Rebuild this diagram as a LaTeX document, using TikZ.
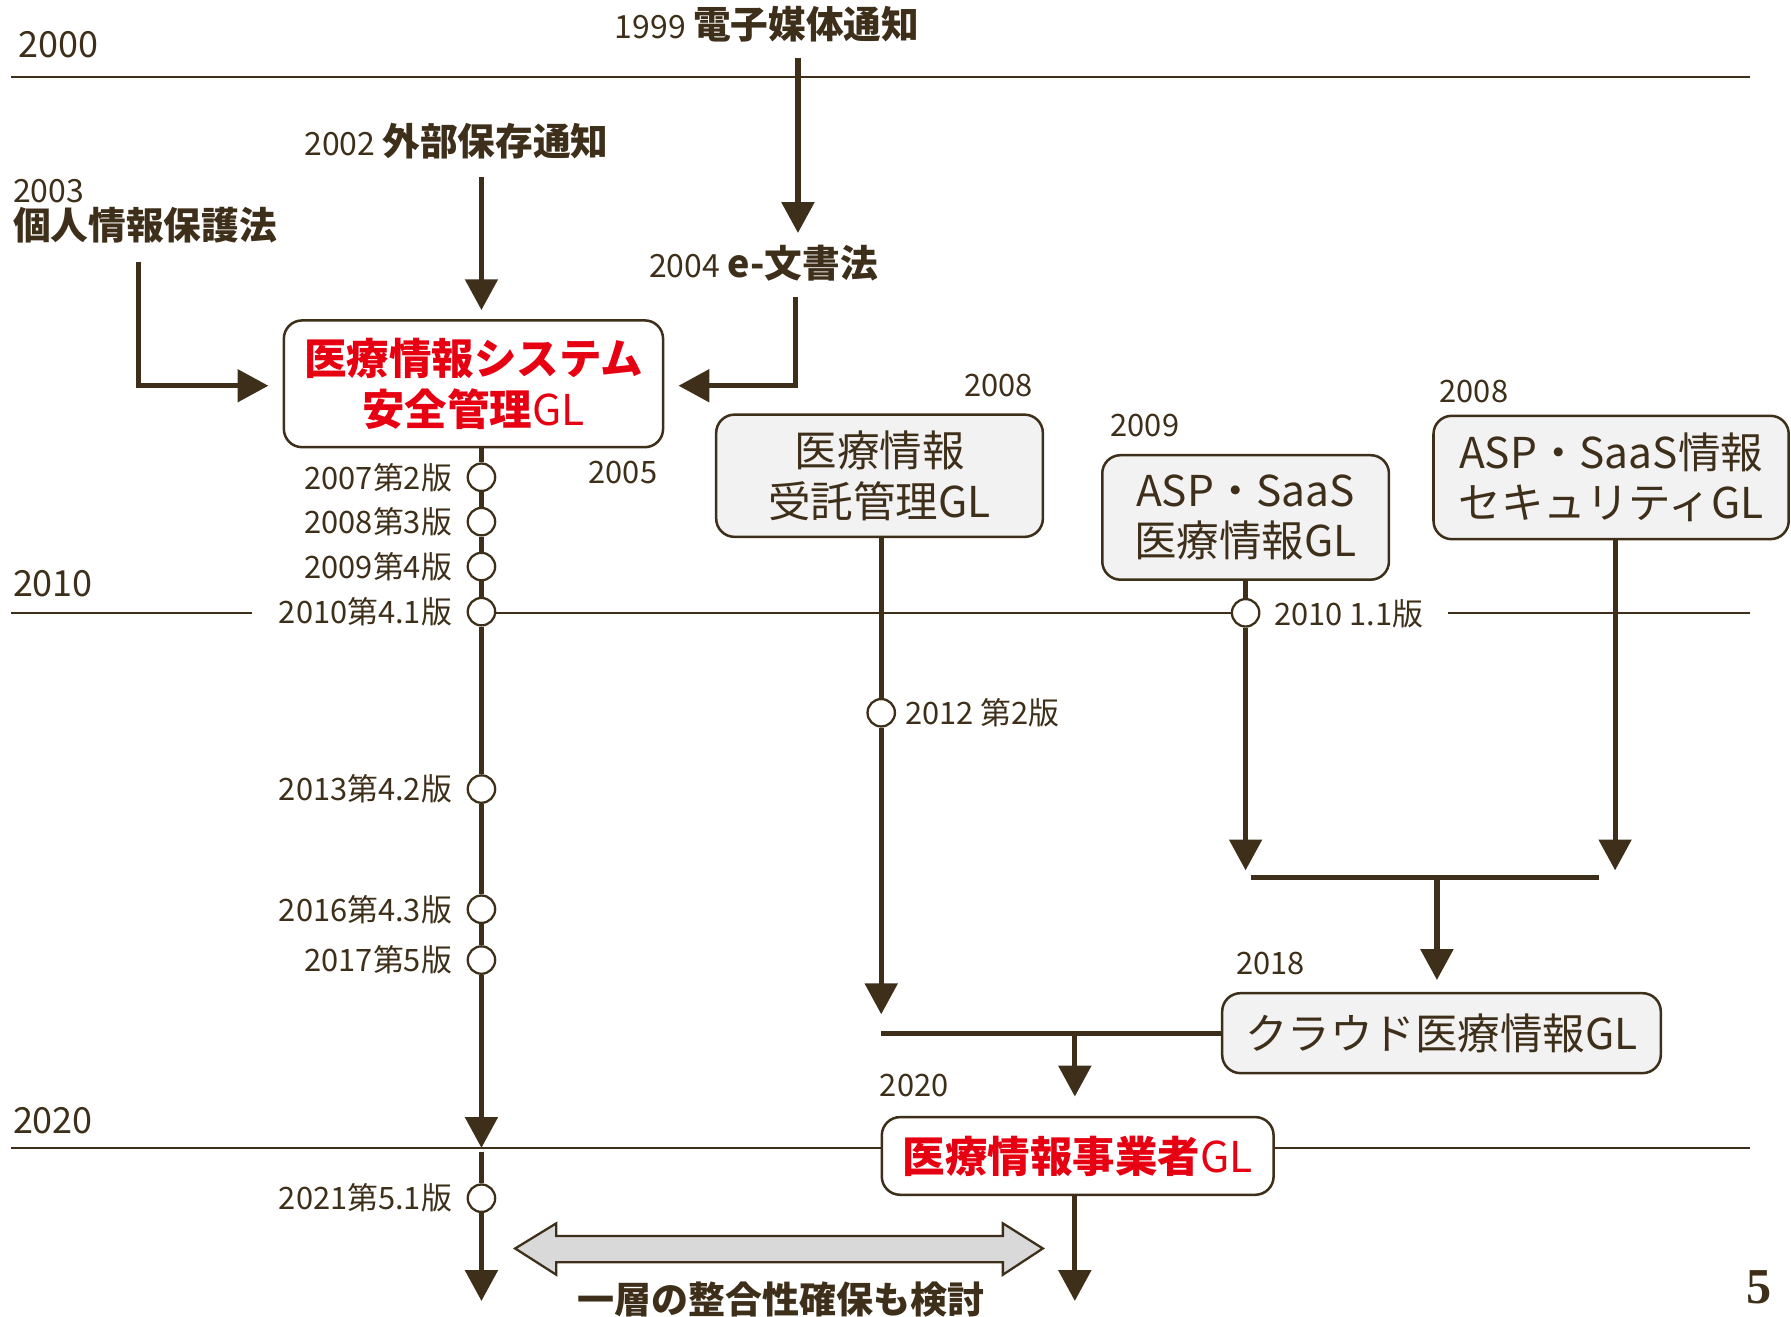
\documentclass[tikz,border=0pt]{standalone}
\usepackage{fontspec}
\setmainfont{Noto Sans CJK JP}
\newfontfamily\serifbold{Liberation Serif}[UprightFont={* Bold}]
\usetikzlibrary{arrows.meta}
\definecolor{ink}{RGB}{62,47,26}
\definecolor{jred}{RGB}{230,0,18}
\definecolor{boxgray}{RGB}{242,242,242}
\definecolor{arrgray}{RGB}{217,217,217}
\newcommand{\fsz}[1]{\fontsize{#1}{#1}\selectfont}
\tikzset{
  conn/.style={draw=ink, line width=2.25pt},
  arr/.style={conn, -{Triangle[length=13.5pt,width=14pt]}},
  yearline/.style={draw=ink, line width=0.9pt},
  gbox/.style={draw=ink, line width=1.1pt, rounded corners=8pt, fill=boxgray, align=center,
    font=\fontsize{18.6}{22}\selectfont, text=ink, inner sep=0pt},
  wbox/.style={gbox, fill=white, text=jred},
  ver/.style={circle, draw=ink, fill=white, line width=1pt, minimum size=12pt, inner sep=0pt},
  lab/.style={font=\fsz{13.5}, text=ink, inner sep=0pt},
  yearlab/.style={font=\fsz{15.75}, text=ink, inner sep=0pt, anchor=base west},
  head/.style={font=\fsz{14}, text=ink, inner sep=0pt, anchor=base west},
}
\newcommand{\hb}[1]{{\fsz{16.5}\bfseries #1}}
\begin{document}
\begin{tikzpicture}[x=0.5pt,y=-0.5pt]
\useasboundingbox (0,0) rectangle (1568,1153);

% year lines
\draw[yearline] (10,67) -- (1532,67);
\draw[yearline] (10,537) -- (221,537);
\draw[yearline] (421.5,537) -- (1091,537);
\draw[yearline] (1268,537) -- (1532,537);
\draw[yearline] (10,1005) -- (1532,1005);
\node[yearlab] (y2000) at (16,50) {2000};
\node[yearlab] (y2010) at (11,522) {2010};
\node[yearlab] (y2020) at (11,992) {2020};

% headings
\node[head] (h1999) at (538,34) {1999 \hb{電子媒体通知}};
\node[head] (h2002) at (266,136) {2002 \hb{外部保存通知}};
\node[head] (h2003) at (11,177) {2003};
\node[head] (h2003b) at (11,210) {\hb{個人情報保護法}};
\node[head] (h2004) at (568,243) {2004 \hb{e-文書法}};

\coordinate (s1999) at (698.6,51);
\coordinate (t1999) at (698.6,204);
\coordinate (s2002) at (421.5,155);
\coordinate (t2002) at (421.5,271.5);
\coordinate (s2003) at (121.6,229);
\coordinate (k2003) at (121.6,337.7);
\coordinate (t2003) at (235,337.7);
\coordinate (s2004) at (696.5,260);
\coordinate (k2004) at (696.5,337.7);
\coordinate (t2004) at (594,337.7);

% boxes
\node[wbox, minimum width=166pt, minimum height=55.5pt] (b1) at (414.5,336)
  {\bfseries 医療情報システム\\{\bfseries 安全管理}GL};
\node[gbox, minimum width=143pt, minimum height=53.5pt] (b2) at (770,416.5)
  {医療情報\\受託管理GL};
\node[gbox, minimum width=125.5pt, minimum height=54.5pt] (b3) at (1090.5,453)
  {ASP・SaaS\\医療情報GL};
\node[gbox, minimum width=155.5pt, minimum height=54pt] (b4) at (1410.5,418)
  {ASP・SaaS情報\\セキュリティGL};
\node[gbox, minimum width=192pt, minimum height=35pt] (b5) at (1262,904.5)
  {クラウド医療情報GL};
\node[wbox, minimum width=171.5pt, minimum height=34pt] (b6) at (943.5,1012)
  {{\bfseries 医療情報事業者}GL};

% box year labels
\node[lab, anchor=base west] (l2005) at (515,423) {2005};
\node[lab, anchor=base west] (l2008a) at (844,347) {2008};
\node[lab, anchor=base west] (l2009) at (972,382) {2009};
\node[lab, anchor=base west] (l2008b) at (1260,352) {2008};
\node[lab, anchor=base west] (l2018) at (1082,853) {2018};
\node[lab, anchor=base west] (l2020) at (770,960) {2020};

% version circles on main line
\foreach \n/\yy/\t in {1/417.8/2007第2版, 2/456.7/2008第3版, 3/496/2009第4版, 4/535.5/2010第4.1版,
    5/690.8/2013第4.2版, 6/796/2016第4.3版, 7/840.5/2017第5版, 8/1049/2021第5.1版}{
  \node[ver] (c\n) at (421.5,\yy) {};
  \node[lab, anchor=east] (cl\n) at (396,\yy) {\t};
}
\node[ver] (d1) at (771.5,624) {};
\node[lab, anchor=west] (dl1) at (792,624) {2012 第2版};
\node[ver] (e1) at (1090.5,536.5) {};
\node[lab, anchor=west] (el1) at (1115,537) {2010 1.1版};

% input arrows
\draw[arr] (s1999) -- (t1999);
\draw[arr] (s2002) -- (t2002);
\draw[arr] (s2003) -- (k2003) -- (t2003);
\draw[arr] (s2004) -- (k2004) -- (t2004);

% main line
\coordinate (m2020) at (421.5,1005);
\coordinate (m2020b) at (421.5,1008.5);
\coordinate (mend) at (421.5,1139);
\draw[conn] (c1 |- b1.south) -- (c1);
\foreach \a/\b in {1/2,2/3,3/4,4/5,5/6,6/7}{\draw[conn] (c\a) -- (c\b);}
\draw[arr] (c7) -- (m2020);
\draw[conn] (m2020b) -- (c8);
\draw[arr] (c8) -- (mend);

% box 2 line
\coordinate (t2) at (771.5,888);
\draw[conn] (d1 |- b2.south) -- (d1);
\draw[arr] (d1) -- (t2);

% box 3 line
\coordinate (t3) at (1090.5,762);
\draw[conn] (e1 |- b3.south) -- (e1);
\draw[arr] (e1) -- (t3);

% box 4 line
\coordinate (s4) at (1414,472);
\coordinate (t4) at (1414,762);
\draw[arr] (s4) -- (t4);

% merge bar
\coordinate (barl) at (1095,768.5);
\coordinate (barr) at (1400,768.5);
\coordinate (barm) at (1258,768.5);
\coordinate (t5) at (1258,858);
\draw[conn] (barl) -- (barr);
\draw[arr] (barm) -- (t5);

% box 5 to box 6
\coordinate (j5) at (771.5,904.5);
\coordinate (j6) at (941,904.5);
\coordinate (t6) at (941,960);
\draw[conn] (b5.west) -- (j5);
\draw[arr] (j6) -- (t6);
\coordinate (t7) at (941,1139);
\draw[arr] (j6 |- b6.south) -- (t7);

% double arrow
\draw[draw=ink, line width=1pt, fill=arrgray, line join=miter]
  (451,1093) -- (487,1071) -- (487,1082) -- (878,1082) -- (878,1071) -- (913,1093)
  -- (878,1116) -- (878,1105) -- (487,1105) -- (487,1116) -- cycle;
\node[inner sep=0pt, anchor=base west, text=ink, font=\fsz{16.2}\bfseries] (note) at (505,1150)
  {一層の整合性確保も検討};

\node[inner sep=0pt, anchor=base west, text=ink, font=\serifbold\fsz{22}] (pg) at (1529,1141) {5};
\end{tikzpicture}
\end{document}
